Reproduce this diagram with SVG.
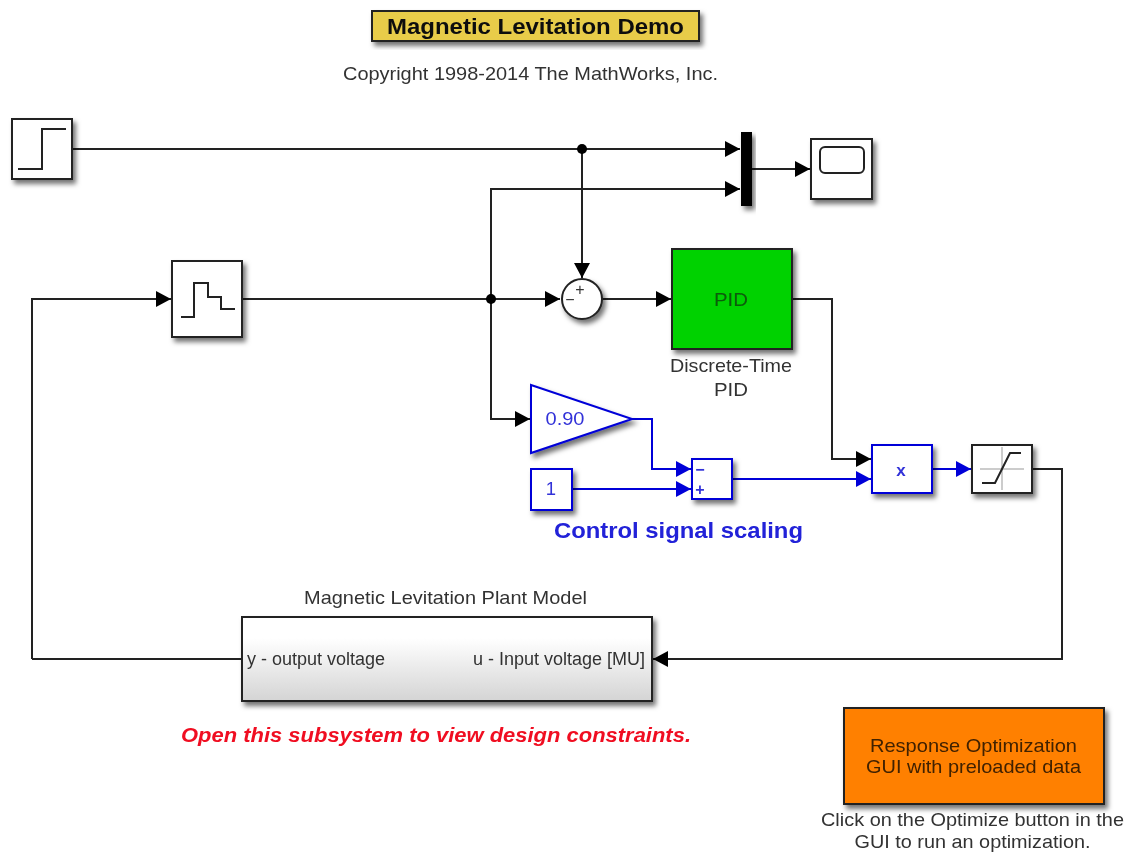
<svg xmlns="http://www.w3.org/2000/svg" width="1128" height="852" viewBox="0 0 1128 852">
<style>
text{font-family:"Liberation Sans",Arial,sans-serif;font-size:18.5px;fill:#333;text-anchor:middle;lengthAdjust:spacingAndGlyphs}
.t{font-size:22px;font-weight:bold}
.b{fill:#fff;stroke:#222;stroke-width:2}
.u{fill:#fff;stroke:#0000d8;stroke-width:2}
.k{fill:none;stroke:#222;stroke-width:2}
.w{fill:none;stroke:#222;stroke-width:2}
.wb{fill:none;stroke:#0000d8;stroke-width:2}
.ut{fill:#3030d8}
.p{font-size:18px}
.o{fill:#402000}
.m{font-size:16px}
</style>
<defs>
<filter id="s" x="-20%" y="-20%" width="150%" height="150%"><feDropShadow dx="3" dy="4" stdDeviation="2.5" flood-color="#000" flood-opacity="0.55"/></filter>
<filter id="soft" filterUnits="userSpaceOnUse" x="0" y="0" width="1128" height="852"><feGaussianBlur stdDeviation="0.7"/></filter>
<linearGradient id="g" x1="0" y1="0" x2="0" y2="1"><stop offset="0.25" stop-color="#fff"/><stop offset="1" stop-color="#d4d4d4"/></linearGradient>
<marker id="a" markerUnits="userSpaceOnUse" markerWidth="16" markerHeight="16" refX="15" refY="8" orient="auto"><path d="M0 0L15 8L0 16Z" fill="#000"/></marker>
<marker id="ab" markerUnits="userSpaceOnUse" markerWidth="16" markerHeight="16" refX="15" refY="8" orient="auto"><path d="M0 0L15 8L0 16Z" fill="#0000d8"/></marker>
</defs>
<rect width="1128" height="852" fill="#fff"/>
<g filter="url(#soft)">
<g id="connectors">
<path class="w" d="M72 149H740" marker-end="url(#a)"/>
<path class="w" d="M582 149V278" marker-end="url(#a)"/>
<path class="w" d="M491 299V189H740" marker-end="url(#a)"/>
<path class="w" d="M752 169H810" marker-end="url(#a)"/>
<path class="w" d="M32 659V299H171" marker-end="url(#a)"/>
<path class="w" d="M242 299H560" marker-end="url(#a)"/>
<path class="w" d="M491 299V419H530" marker-end="url(#a)"/>
<path class="w" d="M602 299H671" marker-end="url(#a)"/>
<path class="w" d="M792 299H832V459H871" marker-end="url(#a)"/>
<path class="w" d="M1032 469H1062V659H653" marker-end="url(#a)"/>
<path class="w" d="M32 659H242"/>
<path class="wb" d="M632 419H652V469H691" marker-end="url(#ab)"/>
<path class="wb" d="M572 489H691" marker-end="url(#ab)"/>
<path class="wb" d="M732 479H871" marker-end="url(#ab)"/>
<path class="wb" d="M932 469H971" marker-end="url(#ab)"/>
<circle cx="582" cy="149" r="5" fill="#000"/>
<circle cx="491" cy="299" r="5" fill="#000"/>
</g>
<g id="title"><rect x="372" y="11" width="327" height="30" fill="#e8cc4a" stroke="#222" stroke-width="2" filter="url(#s)"/><text class="t" x="535.500" y="34" style="fill:#111" textLength="297" lengthAdjust="spacingAndGlyphs">Magnetic Levitation Demo</text></g>
<text id="copyright" x="530.500" y="80" textLength="375" lengthAdjust="spacingAndGlyphs">Copyright 1998-2014 The MathWorks, Inc.</text>
<g id="step"><rect class="b" x="12" y="119" width="60" height="60" filter="url(#s)"/><path class="k" d="M18 169H42V129H66"/></g>
<g id="mux"><rect x="741" y="132" width="11" height="74" fill="#000" filter="url(#s)"/></g>
<g id="scope"><rect class="b" x="811" y="139" width="61" height="60" filter="url(#s)"/><rect class="k" x="820" y="147" width="44" height="26" rx="5"/></g>
<g id="zoh"><rect class="b" x="172" y="261" width="70" height="76" filter="url(#s)"/><path class="k" d="M181 317H194V283H208V297H221V309H235"/></g>
<g id="sum"><circle class="b" cx="582" cy="299" r="20" filter="url(#s)"/><text class="m" x="580" y="295">+</text><text class="m" x="570" y="305">−</text></g>
<g id="pid"><rect x="672" y="249" width="120" height="100" fill="#00d200" stroke="#222" stroke-width="2" filter="url(#s)"/><text x="731" y="306" style="fill:#0a5a0a" textLength="34" lengthAdjust="spacingAndGlyphs">PID</text></g>
<text x="731" y="372" textLength="122" lengthAdjust="spacingAndGlyphs">Discrete-Time</text>
<text x="731" y="396" textLength="34" lengthAdjust="spacingAndGlyphs">PID</text>
<g id="gain"><path class="u" d="M531 385L632 419L531 453Z" filter="url(#s)"/><text class="ut" x="565" y="425" textLength="39" lengthAdjust="spacingAndGlyphs">0.90</text></g>
<g id="const"><rect class="u" x="531" y="469" width="41" height="41" filter="url(#s)"/><text class="ut" x="551" y="495">1</text></g>
<g id="subtract"><rect class="u" x="692" y="459" width="40" height="40" filter="url(#s)"/><text class="ut m" x="700" y="475" style="font-weight:bold">−</text><text class="ut m" x="700" y="495" style="font-weight:bold">+</text></g>
<g id="product"><rect class="u" x="872" y="445" width="60" height="48" filter="url(#s)"/><text class="ut" x="901" y="476" style="font-weight:bold;font-size:17px">x</text></g>
<g id="saturation"><rect class="b" x="972" y="445" width="60" height="48" filter="url(#s)"/><path d="M980 469H1024M1002 447V490" fill="none" stroke="#999" stroke-width="1"/><path class="k" d="M982 483H995L1010 453H1021"/></g>
<text x="678.500" y="538" class="t" style="fill:#2020d8" textLength="249" lengthAdjust="spacingAndGlyphs">Control signal scaling</text>
<text x="445.500" y="604" textLength="283" lengthAdjust="spacingAndGlyphs">Magnetic Levitation Plant Model</text>
<g id="plant"><rect x="242" y="617" width="410" height="84" fill="url(#g)" stroke="#222" stroke-width="2" filter="url(#s)"/><text class="p" x="247" y="665" style="text-anchor:start">y - output voltage</text><text class="p" x="645" y="665" style="text-anchor:end">u - Input voltage [MU]</text></g>
<text x="436" y="742" style="font-size:21px;font-weight:bold;font-style:italic;fill:#f01020" textLength="510" lengthAdjust="spacingAndGlyphs">Open this subsystem to view design constraints.</text>
<g id="response"><rect x="844" y="708" width="260" height="96" fill="#ff8000" stroke="#222" stroke-width="2" filter="url(#s)"/><text class="o" x="973.500" y="752" textLength="207" lengthAdjust="spacingAndGlyphs">Response Optimization</text><text class="o" x="973.500" y="773" textLength="215" lengthAdjust="spacingAndGlyphs">GUI with preloaded data</text></g>
<text x="972.500" y="826" textLength="303" lengthAdjust="spacingAndGlyphs">Click on the Optimize button in the</text>
<text x="972.500" y="848" textLength="236" lengthAdjust="spacingAndGlyphs">GUI to run an optimization.</text>
</g>
</svg>
